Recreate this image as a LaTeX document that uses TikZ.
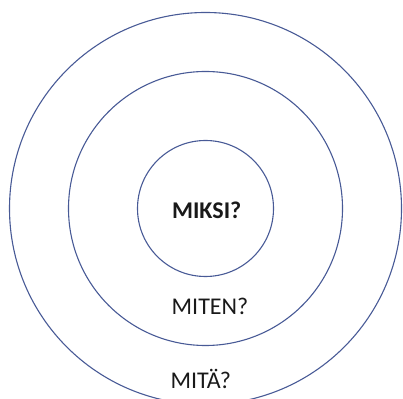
\documentclass[tikz,border=0pt]{standalone}
\usepackage{fontspec}
\setmainfont{Carlito}
\begin{document}
\begin{tikzpicture}[x=1pt,y=1pt,
  ring/.style={draw=ringblue,line width=1.1pt},
  lbl/.style={anchor=base,inner sep=0pt,text=black!90,font=\fontsize{24}{28}\selectfont}]
\definecolor{ringblue}{RGB}{72,90,150}
\useasboundingbox (0,0) rectangle (403,398);
\coordinate (c) at (205.5,189.5);
\draw[ring] (c) circle[radius=196];
\draw[ring] (c) circle[radius=137];
\draw[ring] (c) circle[radius=68];
\node[lbl,font=\fontsize{24}{28}\selectfont\bfseries] (miksi) at (206.7,179.7) {MIKSI?};
\node[lbl] (miten) at (210,83.7) {MITEN?};
\node[lbl] (mita) at (200.8,10) {MITÄ?};
\end{tikzpicture}
\end{document}
